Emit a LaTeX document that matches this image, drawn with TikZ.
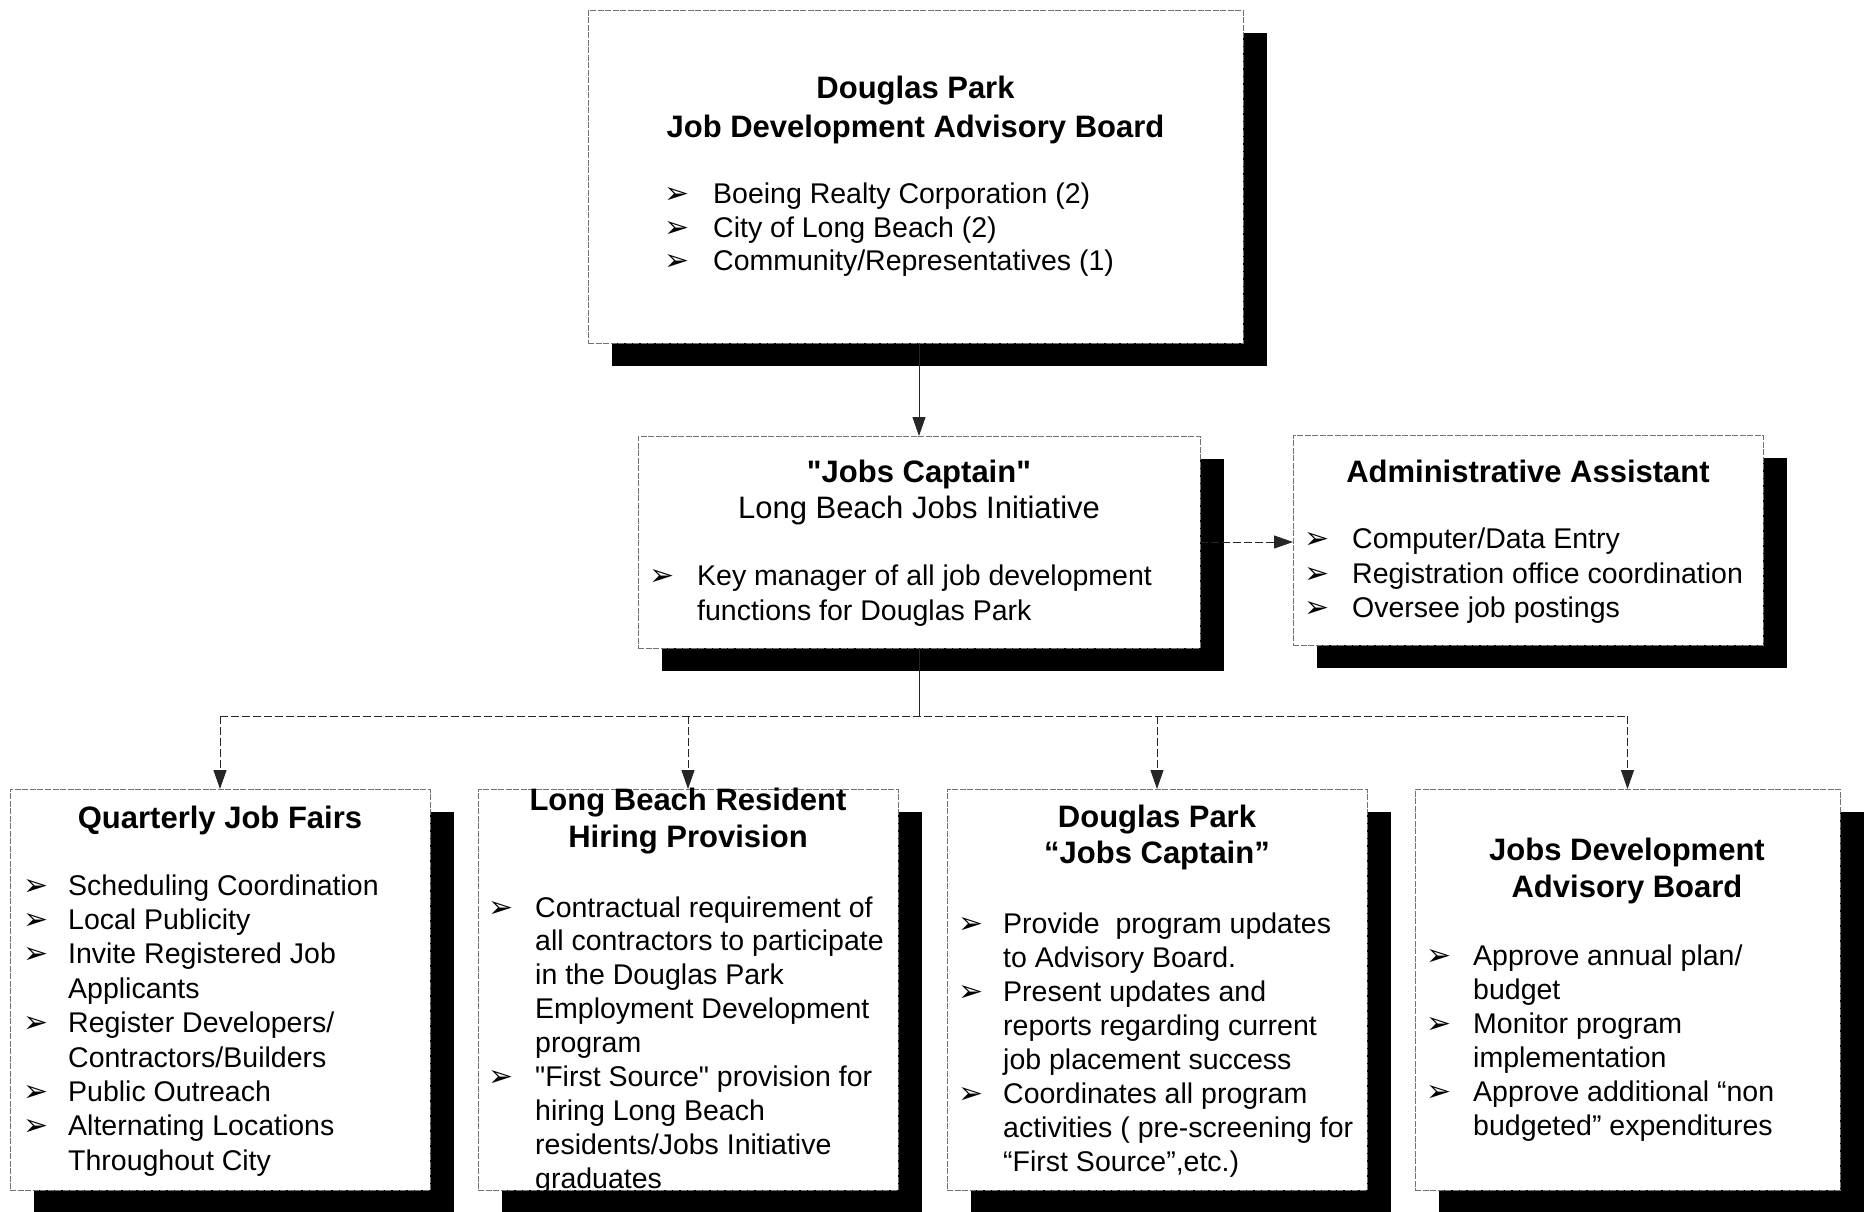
\documentclass[tikz,border=0pt]{standalone}
\usepackage{fontspec}
\setmainfont{Liberation Sans}
\newfontfamily\dejavu{DejaVu Sans}
\usetikzlibrary{arrows.meta,shadows}

% straight double quote, set as a glyph so that no text mapping curls it
\newcommand\sq{\XeTeXglyph\XeTeXcharglyph"22\relax}

% one bulleted line: name, bullet x, text x, baseline y, text
\newcommand\bitem[5]{%
  \node[bulsty] (#1b) at (#2,#4) {➢};
  \node[body] (#1) at (#3,#4) {#5};}
% continuation line: name, text x, baseline y, text
\newcommand\citem[4]{%
  \node[body] (#1) at (#2,#3) {#4};}

\begin{document}
\begin{tikzpicture}[x=1pt,y=-1pt,
  orgbox/.style={rectangle, draw=black!55, line width=0.9pt,
    dash pattern=on 6pt off 1.5pt, fill=white, inner sep=0pt, outer sep=0pt,
    anchor=north west,
    drop shadow={shadow xshift=24pt, shadow yshift=-23pt, fill=black,
      opacity=1, draw=none}},
  ttl/.style={font=\fontsize{31}{37}\selectfont\bfseries, inner sep=0pt, anchor=base},
  sub/.style={font=\fontsize{31}{37}\selectfont, inner sep=0pt, anchor=base},
  body/.style={font=\fontsize{28.5}{34}\selectfont, inner sep=0pt, anchor=base west},
  bulsty/.style={font=\dejavu\fontsize{30}{30}\selectfont, inner sep=0pt, anchor=base west},
  link/.style={draw=black!85, line width=1pt, -{Triangle[length=19pt,width=13pt]}},
  trunk/.style={draw=black!85, line width=1pt},
  brokenline/.style={dash pattern=on 8pt off 3pt}
]
\fill[white] (0,0) rectangle (1872,1211);
\useasboundingbox (0,0) rectangle (1872,1211);

% ---------- boxes ----------
\node[orgbox, minimum width=655pt, minimum height=333pt] (top) at (588,10) {};
\node[orgbox, minimum width=562pt, minimum height=212pt] (cap) at (638,436) {};
\node[orgbox, minimum width=470pt, minimum height=210pt] (adm) at (1293,435) {};
\node[orgbox, minimum width=420pt, minimum height=401pt] (b1) at (10,789) {};
\node[orgbox, minimum width=420pt, minimum height=401pt] (b2) at (478,789) {};
\node[orgbox, minimum width=420pt, minimum height=401pt] (b3) at (947,789) {};
\node[orgbox, minimum width=425pt, minimum height=401pt] (b4) at (1415,789) {};

% ---------- advisory board ----------
\node[ttl] (topT1) at (915.5,98) {Douglas Park};
\node[ttl] (topT2) at (915.5,137) {Job Development Advisory Board};
\bitem{topL1}{664}{713}{203}{Boeing Realty Corporation (2)}
\bitem{topL2}{664}{713}{237}{City of Long Beach (2)}
\bitem{topL3}{664}{713}{270}{Community/Representatives (1)}

% ---------- jobs captain ----------
\node[ttl] (capT1) at (919,482) {\sq Jobs Captain\sq};
\node[sub] (capT2) at (919,518) {Long Beach Jobs Initiative};
\bitem{capL1}{649}{697}{585}{Key manager of all job development}
\citem{capL2}{697}{620}{functions for Douglas Park}

% ---------- administrative assistant ----------
\node[ttl] (admT1) at (1528,482) {Administrative Assistant};
\bitem{admL1}{1304}{1352}{548}{Computer/Data Entry}
\bitem{admL2}{1304}{1352}{583}{Registration office coordination}
\bitem{admL3}{1304}{1352}{617}{Oversee job postings}

% ---------- quarterly job fairs ----------
\node[ttl] (b1T1) at (220,828) {Quarterly Job Fairs};
\bitem{b1L1}{23}{68}{895}{Scheduling Coordination}
\bitem{b1L2}{23}{68}{929.4}{Local Publicity}
\bitem{b1L3}{23}{68}{963.8}{Invite Registered Job}
\citem{b1L4}{68}{998.2}{Applicants}
\bitem{b1L5}{23}{68}{1032.6}{Register Developers/}
\citem{b1L6}{68}{1067}{Contractors/Builders}
\bitem{b1L7}{23}{68}{1101.4}{Public Outreach}
\bitem{b1L8}{23}{68}{1135.8}{Alternating Locations}
\citem{b1L9}{68}{1170.2}{Throughout City}

% ---------- resident hiring provision ----------
\node[ttl] (b2T1) at (688,810) {Long Beach Resident};
\node[ttl] (b2T2) at (688,847) {Hiring Provision};
\bitem{b2L1}{488}{535}{917}{Contractual requirement of}
\citem{b2L2}{535}{950.9}{all contractors to participate}
\citem{b2L3}{535}{984.8}{in the Douglas Park}
\citem{b2L4}{535}{1018.7}{Employment Development}
\citem{b2L5}{535}{1052.6}{program}
\bitem{b2L6}{488}{535}{1086.5}{\sq First Source\sq{} provision for}
\citem{b2L7}{535}{1120.4}{hiring Long Beach}
\citem{b2L8}{535}{1154.3}{residents/Jobs Initiative}
\citem{b2L9}{535}{1188.2}{graduates}

% ---------- douglas park jobs captain ----------
\node[ttl] (b3T1) at (1157,827) {Douglas Park};
\node[ttl] (b3T2) at (1157,863) {``Jobs Captain''};
\bitem{b3L1}{958}{1003}{933}{Provide\ \ program updates}
\citem{b3L2}{1003}{967.1}{to Advisory Board.}
\bitem{b3L3}{958}{1003}{1001.2}{Present updates and}
\citem{b3L4}{1003}{1035.3}{reports regarding current}
\citem{b3L5}{1003}{1069.4}{job placement success}
\bitem{b3L6}{958}{1003}{1103.5}{Coordinates all program}
\citem{b3L7}{1003}{1137.6}{activities ( pre-screening for}
\citem{b3L8}{1003}{1171.7}{``First Source'',etc.)}

% ---------- jobs development advisory board ----------
\node[ttl] (b4T1) at (1627,860) {Jobs Development};
\node[ttl] (b4T2) at (1627,897) {Advisory Board};
\bitem{b4L1}{1426}{1473}{965}{Approve annual plan/}
\citem{b4L2}{1473}{999}{budget}
\bitem{b4L3}{1426}{1473}{1033}{Monitor program}
\citem{b4L4}{1473}{1067}{implementation}
\bitem{b4L5}{1426}{1473}{1101}{Approve additional ``non}
\citem{b4L6}{1473}{1135}{budgeted'' expenditures}

% ---------- connectors ----------
\draw[link] (cap.north |- top.south) -- (cap.north);
\draw[link, brokenline] (cap.east) -- (cap.east -| adm.west);
\coordinate (bus) at (919,716);
\draw[trunk] (cap.south) -- (bus);
\draw[trunk, brokenline] (bus -| b1.north) -- (bus -| b4.north);
\foreach \b in {b1,b2,b3,b4}
  \draw[link, brokenline] (bus -| \b.north) -- (\b.north);
\end{tikzpicture}
\end{document}
